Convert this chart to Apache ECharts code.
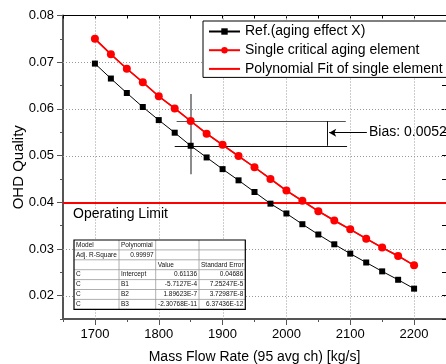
<!DOCTYPE html>
<html>
<head>
<meta charset="utf-8">
<script src="https://cdn.jsdelivr.net/npm/echarts@6/dist/echarts.min.js"></script>
<style>
html,body{margin:0;padding:0;background:#fff;}
#c{width:446px;height:364px;}
</style>
</head>
<body>
<div id="c"></div>
<script>
// ---- data ----
var massFlow = [1700,1725,1750,1775,1800,1825,1850,1875,1900,1925,1950,1975,2000,2025,2050,2075,2100,2125,2150,2175,2200];
var refValues = [0.0697,0.0665,0.0634,0.0604,0.0576,0.0549,0.0521,0.0496,0.0471,0.0447,0.0422,0.0397,0.0376,0.0353,0.0331,0.0310,0.0290,0.0271,0.0252,0.0234,0.0215];
var singleValues = [0.0750,0.0717,0.0686,0.0657,0.0627,0.0601,0.0574,0.0547,0.0523,0.0499,0.0475,0.0450,0.0425,0.0403,0.0381,0.0361,0.0342,0.0322,0.0303,0.0285,0.0265];
var seriesNames = ['Ref.(aging effect X)','Single critical aging element','Polynomial Fit of single element'];
var xTickLabels = [1700,1800,1900,2000,2100,2200];
var yTickLabels = [0.02,0.03,0.04,0.05,0.06,0.07,0.08];
var operatingLimit = 0.04;
var crossX = 1850;
var crossYRange = [0.0632,0.0460];
var biasUpperY = 0.0574, biasLowerY = 0.0521;
var biasLineXRange = [1828,2093];
var biasBarX = 2064;
var arrowY = 0.0549, arrowX = [2126,2067];
var biasText = 'Bias: 0.0052';
var limitText = 'Operating Limit';
var tableRows = [
  ['Model','Polynomial','',''],
  ['Adj. R-Square','0.99997','',''],
  ['','','Value','Standard Error'],
  ['C','Intercept','0.61136','0.04686'],
  ['C','B1','-5.7127E-4','7.25247E-5'],
  ['C','B2','1.89623E-7','3.72987E-8'],
  ['C','B3','-2.30768E-11','6.37436E-12']
];

var FONT = '"Liberation Sans", Arial, sans-serif';
var chart = echarts.init(document.getElementById('c'), null, {renderer:'canvas'});

function pairs(xs, ys){ return xs.map(function(x,i){return [x, ys[i]];}); }

var X_MIN = 1650, X_MAX = 2250, Y_MIN = 0.015, Y_MAX = 0.08;

// table graphic
var colX = [74,119,155.7,199,245.3];
var rowTop = 240, rowH = 9.9;
var tableEls = [];
tableEls.push({type:'rect', shape:{x:74,y:240,width:171.3,height:69.3}, style:{fill:'#fff', stroke:'none'}, z:100});
for (var r=1;r<tableRows.length;r++){
  tableEls.push({type:'line', shape:{x1:74,y1:rowTop+r*rowH,x2:245.3,y2:rowTop+r*rowH}, style:{stroke:'#999',lineWidth:0.8}, z:101});
}
for (var cI=1;cI<4;cI++){
  tableEls.push({type:'line', shape:{x1:colX[cI],y1:240,x2:colX[cI],y2:309.3}, style:{stroke:'#999',lineWidth:0.8}, z:101});
}
tableEls.push({type:'rect', shape:{x:74,y:240,width:171.3,height:69.3}, style:{fill:'none', stroke:'#000', lineWidth:1.2}, z:102});
tableRows.forEach(function(row, r){
  row.forEach(function(txt, cI){
    if(!txt) return;
    var right = (r===1 && cI===1) || (r>=3 && cI>=2);
    tableEls.push({type:'text', z:103,
      style:{text:txt, x: right ? colX[cI+1]-2 : colX[cI]+2, y: rowTop + r*rowH + rowH/2,
        textAlign: right ? 'right':'left', textVerticalAlign:'middle',
        font: '6.5px ' + FONT, fill:'#111'}});
  });
});

function off(){ return {show:false}; }
var refMarks = [
  [{coord:[crossX, crossYRange[0]], lineStyle:{color:'#666', width:1.5, type:'solid'}},{coord:[crossX, crossYRange[1]]}],
  [{coord:[biasLineXRange[0], biasUpperY], lineStyle:{color:'#555', width:1, type:'solid'}},{coord:[biasLineXRange[1], biasUpperY]}],
  [{coord:[biasLineXRange[0]-3, biasLowerY], lineStyle:{color:'#111', width:1, type:'solid'}},{coord:[biasLineXRange[1]+2, biasLowerY]}],
  [{coord:[biasBarX, biasUpperY], lineStyle:{color:'#111', width:1, type:'solid'}},{coord:[biasBarX, biasLowerY]}]
];

var option = {
  animation:false,
  backgroundColor:'#fff',
  grid:{left:63, right:0, top:15.5, bottom:45, containLabel:false, outerBoundsMode:'none'},
  legend:{
    orient:'vertical', left:203, top:21, padding:[2,4,0,5], itemGap:1.7,
    itemWidth:31, itemHeight:8,
    backgroundColor:'#fff', borderColor:'#000', borderWidth:1, borderRadius:0,
    textStyle:{fontFamily:FONT, fontSize:14, color:'#000', lineHeight:17},
    data: [
      {name:seriesNames[0]},
      {name:seriesNames[1]},
      {name:seriesNames[2], itemStyle:{opacity:0}}
    ]
  },
  xAxis:[
    {type:'value', position:'bottom', min:X_MIN, max:X_MAX, interval:50,
     name:'Mass Flow Rate (95 avg ch) [kg/s]', nameLocation:'middle', nameGap:31,
     nameTextStyle:{fontFamily:FONT, fontSize:14, color:'#000'},
     axisLine:{show:true, onZero:false, lineStyle:{color:'#555', width:2}},
     axisTick:{show:true, inside:false, length:6, customValues:xTickLabels, lineStyle:{color:'#555', width:1}},
     axisLabel:{show:true, customValues:xTickLabels, fontFamily:FONT, fontSize:13, color:'#000', margin:9,
       formatter:function(v){return String(v);}},
     splitLine:off()
    },
    {type:'value', position:'bottom', min:X_MIN, max:X_MAX, interval:50,
     axisLine:off(), axisTick:{show:true, length:3, lineStyle:{color:'#555'}},
     axisLabel:off(), splitLine:off()},
    {type:'value', position:'top', min:X_MIN, max:X_MAX, interval:50,
     axisLine:{show:true, onZero:false, lineStyle:{color:'#000', width:1}},
     axisTick:{show:true, inside:true, length:3, lineStyle:{color:'#000'}},
     axisLabel:off(), splitLine:off()}
  ],
  yAxis:[
    {type:'value', position:'left', min:Y_MIN, max:Y_MAX, interval:0.005,
     name:'OHD Quality', nameLocation:'middle', nameGap:37, nameRotate:90, nameMoveOverlap:false,
     nameTextStyle:{fontFamily:FONT, fontSize:15, color:'#000'},
     axisLine:{show:true, onZero:false, lineStyle:{color:'#555', width:2}},
     axisTick:{show:true, inside:false, length:6, customValues:yTickLabels, lineStyle:{color:'#555', width:1}},
     axisLabel:{show:true, customValues:yTickLabels, fontFamily:FONT, fontSize:13, color:'#000', margin:9,
       formatter:function(v){return v.toFixed(2);}},
     splitLine:off()
    },
    {type:'value', position:'left', min:Y_MIN, max:Y_MAX, interval:0.005,
     axisLine:off(), axisTick:{show:true, length:3, lineStyle:{color:'#555'}},
     axisLabel:off(), splitLine:off()},
    {type:'value', position:'right', min:Y_MIN, max:Y_MAX, interval:0.005,
     axisLine:{show:true, onZero:false, lineStyle:{color:'#000', width:1}},
     axisTick:{show:true, inside:true, length:4, lineStyle:{color:'#000'}},
     axisLabel:off(), splitLine:off()}
  ],
  series:[
    {name:seriesNames[0], type:'line', xAxisIndex:0, yAxisIndex:0,
     data:pairs(massFlow, refValues), symbol:'rect', symbolSize:6,
     itemStyle:{color:'#000'}, lineStyle:{color:'#000', width:1}, z:5,
     markLine:{silent:true, symbol:'none', label:{show:false}, animation:false, data:refMarks}
    },
    {name:seriesNames[1], type:'line', xAxisIndex:0, yAxisIndex:0,
     data:pairs(massFlow, singleValues), symbol:'circle', symbolSize:8,
     itemStyle:{color:'#ff0000'}, lineStyle:{color:'#ff0000', width:1.5}, z:6,
     markLine:{silent:true, symbol:['none','arrow'], symbolSize:[6,7], label:{show:false}, animation:false,
       data:[
         [{coord:[arrowX[0], arrowY], lineStyle:{color:'#000', width:1, type:'solid'}},{coord:[arrowX[1], arrowY]}]
       ]}
    },
    {name:seriesNames[2], type:'line', xAxisIndex:0, yAxisIndex:0,
     data:pairs(massFlow, singleValues), symbol:'none',
     itemStyle:{color:'#ff0000'}, lineStyle:{color:'#ff0000', width:1.5}, z:4,
     markLine:{silent:true, symbol:'none', label:{show:false}, animation:false,
       data:[{yAxis:operatingLimit, lineStyle:{color:'#ff0000', width:2.2, type:'solid'}}]}
    }
  ]
};
chart.setOption(option);

// dotted grid lines at the major ticks, positioned through the axes' own scales
var pTL = chart.convertToPixel({gridIndex:0}, [X_MIN, Y_MAX]);
var pBR = chart.convertToPixel({gridIndex:0}, [X_MAX, Y_MIN]);
var gridEls = [];
xTickLabels.forEach(function(v){
  var p = chart.convertToPixel({gridIndex:0}, [v, Y_MIN]);
  var px = Math.round(p[0]) + 0.5;
  gridEls.push({type:'line', silent:true, z:1,
    shape:{x1:px, y1:pTL[1], x2:px, y2:pBR[1]},
    style:{stroke:'#9a9a9a', lineWidth:1, lineDash:[1,2]}});
});
yTickLabels.forEach(function(v){
  if (v >= Y_MAX) return;
  var p = chart.convertToPixel({gridIndex:0}, [X_MIN, v]);
  var py = Math.round(p[1]) + 0.5;
  gridEls.push({type:'line', silent:true, z:1,
    shape:{x1:pTL[0], y1:py, x2:pBR[0], y2:py},
    style:{stroke:'#9a9a9a', lineWidth:1, lineDash:[1,2]}});
});

chart.setOption({
  graphic:[
    {type:'group', z:1, children:gridEls},
    {type:'text', left:73, top:207, z:50, style:{text:limitText, font:'14px '+FONT, fill:'#000'}},
    {type:'text', left:369, top:125, z:50, style:{text:biasText, font:'14px '+FONT, fill:'#000'}},
    {type:'group', z:100, children:tableEls}
  ]
});
</script>
</body>
</html>
